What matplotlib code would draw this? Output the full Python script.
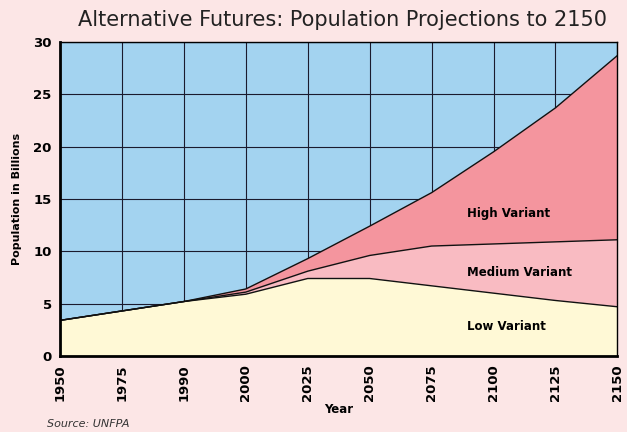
import matplotlib.pyplot as plt
import numpy as np

years = ['1950', '1975', '1990', '2000', '2025', '2050', '2075', '2100', '2125', '2150']
low = [3.4, 4.3, 5.2, 5.9, 7.4, 7.4, 6.7, 6.0, 5.3, 4.7]
medium = [3.4, 4.3, 5.2, 6.1, 8.1, 9.6, 10.5, 10.7, 10.9, 11.1]
high = [3.4, 4.3, 5.2, 6.4, 9.3, 12.4, 15.6, 19.5, 23.7, 28.7]

bg = '#fce6e6'
x = np.arange(len(years))

fig = plt.figure(figsize=(6.27, 4.32), dpi=100, facecolor=bg)
ax = fig.add_axes([0.0957, 0.176, 0.889, 0.727])
ax.set_facecolor('#a3d3f0')

ax.fill_between(x, 0, high, color='#f4959e', zorder=2)
ax.fill_between(x, 0, medium, color='#f9bbc2', zorder=3)
ax.fill_between(x, 0, low, color='#fff9d6', zorder=4)
ax.plot(x, high, color='#111111', lw=1, zorder=5)
ax.plot(x, medium, color='#111111', lw=1, zorder=5)
ax.plot(x, low, color='#111111', lw=1, zorder=5)

ax.set_xlim(0, len(years) - 1)
ax.set_ylim(0, 30)
ax.set_xticks(x)
ax.set_xticklabels(years, rotation=90, fontweight='bold', fontsize=9.5)
ax.set_yticks(range(0, 31, 5))
ax.set_yticklabels([str(v) for v in range(0, 31, 5)], fontweight='bold', fontsize=9.5)
ax.tick_params(length=0, pad=6)
ax.grid(True, color='#1a1a2e', lw=0.8, zorder=1)
ax.set_axisbelow(True)

for side in ['left', 'bottom']:
    ax.spines[side].set_linewidth(2)
for side in ['top', 'right']:
    ax.spines[side].set_linewidth(1)
for s in ax.spines.values():
    s.set_zorder(6)

ax.text(6.57, 13.6, 'High Variant', fontsize=8.5, fontweight='bold', va='center', zorder=7)
ax.text(6.57, 8.0, 'Medium Variant', fontsize=8.5, fontweight='bold', va='center', zorder=7)
ax.text(6.57, 2.8, 'Low Variant', fontsize=8.5, fontweight='bold', va='center', zorder=7)

ax.set_ylabel('Population in Billions', fontsize=8, fontweight='bold', labelpad=8)
ax.set_xlabel('Year', fontsize=8.5, fontweight='bold', labelpad=1)

fig.text(0.547, 0.953, 'Alternative Futures: Population Projections to 2150',
         ha='center', va='center', fontsize=15, color='#222222')
fig.text(0.075, 0.012, 'Source: UNFPA', fontsize=8, style='italic', color='#333333')

fig.savefig('out.png', dpi=100, facecolor=bg)
